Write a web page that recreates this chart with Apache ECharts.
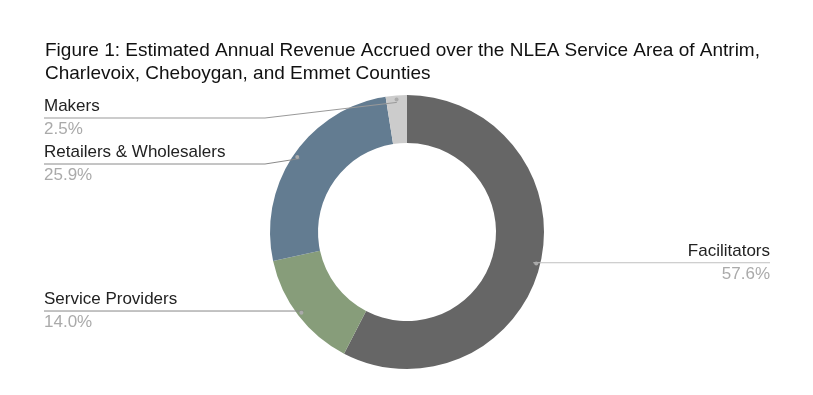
<!DOCTYPE html>
<html><head><meta charset="utf-8">
<script src="https://cdn.jsdelivr.net/npm/echarts@6/dist/echarts.min.js"></script>
<style>html,body{margin:0;padding:0;background:#fff}#c{width:813px;height:395px}</style>
</head><body><div id="c"></div>
<script>
const titleText = 'Figure 1: Estimated Annual Revenue Accrued over the NLEA Service Area of Antrim,\nCharlevoix, Cheboygan, and Emmet Counties';
const categories = ['Facilitators', 'Service Providers', 'Retailers & Wholesalers', 'Makers'];
const values = [57.6, 14.0, 25.9, 2.5];
const sliceColors = ['#666666', '#879d7a', '#637c91', '#cccccc'];
const lineColors = ['#c0c0c0', '#888888', '#8a8a8a', '#999999'];

const cx = 407, cy = 232, r0 = 89, r1 = 137, dotR = 130;
const lineH = 23, leftX = 44, rightX = 770, gap = 46;
const FONT = '"Liberation Sans", Arial, sans-serif';

// label layout computed from data angles
const total = values.reduce((a, b) => a + b, 0);
const lay = [];
let cum = 0;
values.forEach((v, i) => {
  const mid = (cum + v / 2) / total * Math.PI * 2;
  cum += v;
  const dx = cx + dotR * Math.sin(mid), dy = cy - dotR * Math.cos(mid);
  lay.push({ i, dx, dy, left: dx < cx, y: dy });
});
['L', 'R'].forEach(s => {
  const arr = lay.filter(o => (s === 'L') === o.left).sort((a, b) => a.dy - b.dy);
  let minY = cy - r1 + lineH;
  arr.forEach(o => { o.y = Math.max(o.dy, minY); minY = o.y + gap; });
});
lay.sort((a, b) => a.i - b.i);

const pieBase = { type: 'pie', center: [cx, cy], startAngle: 90, clockwise: true, silent: true, avoidLabelOverlap: false };

const chart = echarts.init(document.getElementById('c'), null, { renderer: 'canvas' });
chart.setOption({
  animation: false,
  backgroundColor: '#fff',
  title: {
    text: titleText, left: 40, top: 35,
    textStyle: { fontFamily: FONT, fontSize: 19, fontWeight: 'normal', color: '#111', lineHeight: 22.5 }
  },
  series: [
    Object.assign({}, pieBase, {
      radius: [r0, r1], z: 2,
      data: categories.map((c, i) => ({ name: c, value: values[i], itemStyle: { color: sliceColors[i] } })),
      label: { show: false }, labelLine: { show: false }
    }),
    Object.assign({}, pieBase, {
      radius: [r0, r1], z: 3,
      itemStyle: { color: 'rgba(0,0,0,0)' },
      data: categories.map((c, i) => ({
        name: c, value: values[i],
        labelLine: { lineStyle: { color: lineColors[i], width: 1 } }
      })),
      label: {
        show: true,
        formatter: p => '{n|' + p.name + '}\n{p|' + values[p.dataIndex].toFixed(1) + '%}',
        rich: {
          n: { fontFamily: FONT, fontSize: 17, color: '#222', lineHeight: lineH },
          p: { fontFamily: FONT, fontSize: 17, color: '#aaaaaa', lineHeight: lineH }
        }
      },
      labelLine: { show: true, smooth: false },
      labelLayout: function (params) {
        const o = lay[params.dataIndex];
        const ex = o.left ? leftX : rightX;
        const elbowX = o.left ? Math.min(o.dx, cx - r1 - 5) : Math.max(o.dx, cx + r1 + 5);
        return {
          x: ex, y: o.y,
          align: o.left ? 'left' : 'right',
          verticalAlign: 'middle',
          labelLinePoints: [[o.dx, o.dy], [elbowX, o.y], [ex, o.y]]
        };
      }
    }),
    Object.assign({}, pieBase, {
      radius: [dotR - 7, dotR + 7], z: 4,
      itemStyle: { color: 'rgba(0,0,0,0)' },
      data: categories.map((c, i) => ({ name: c, value: values[i] })),
      label: {
        show: true, position: 'inside',
        formatter: '{d|}',
        rich: { d: { width: 4, height: 4, borderRadius: 2, backgroundColor: '#aaaaaa' } }
      },
      labelLine: { show: false }
    })
  ]
});
</script></body></html>
